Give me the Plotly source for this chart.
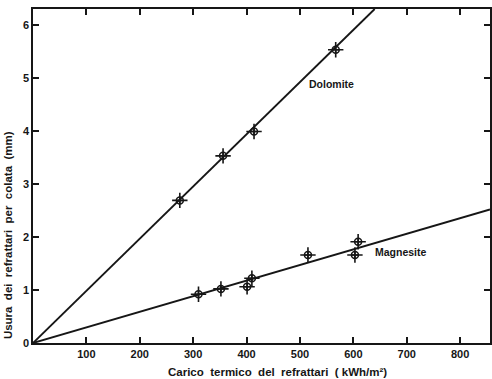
import plotly.graph_objects as go

# Data
dolomite_x = [275, 356, 414, 567]
dolomite_y = [2.69, 3.53, 3.99, 5.53]
magnesite_x = [310, 352, 401, 410, 515, 603, 609]
magnesite_y = [0.92, 1.02, 1.06, 1.22, 1.66, 1.66, 1.91]

# Fitted lines (endpoints)
dolomite_line_x = [0, 640]
dolomite_line_y = [0, 6.3]
magnesite_line_x = [0, 856]
magnesite_line_y = [0, 2.52]

x_ticks = [100, 200, 300, 400, 500, 600, 700, 800]
y_ticks = [0, 1, 2, 3, 4, 5, 6]

ink = "#161616"
fam = "Liberation Sans, Arial, sans-serif"
font = dict(family=fam, size=11, color=ink)

fig = go.Figure()
for lx, ly in [(dolomite_line_x, dolomite_line_y), (magnesite_line_x, magnesite_line_y)]:
    fig.add_trace(go.Scatter(x=lx, y=ly, mode="lines",
                             line=dict(color=ink, width=1.9), showlegend=False))
for px, py in [(dolomite_x, dolomite_y), (magnesite_x, magnesite_y)]:
    fig.add_trace(go.Scatter(x=px, y=py, mode="markers", showlegend=False,
                             marker=dict(symbol="cross-thin-open", size=11, color=ink,
                                         line=dict(color=ink, width=1.6))))
    fig.add_trace(go.Scatter(x=px, y=py, mode="markers", showlegend=False,
                             marker=dict(symbol="circle-cross-open", size=7,
                                         color=ink,
                                         line=dict(color=ink, width=1.5))))

fig.add_annotation(x=560, y=4.89, text="<b>Dolomite</b>", showarrow=False,
                   font=dict(family=fam, size=10.5, color=ink))
fig.add_annotation(x=690, y=1.72, text="<b>Magnesite</b>", showarrow=False,
                   font=dict(family=fam, size=10.5, color=ink))

# axis titles
fig.add_annotation(xref="paper", yref="paper", x=0.536, y=-0.087,
                   text="<b>Carico  termico  del  refrattari  ( kWh/m²)</b>",
                   showarrow=False, font=dict(family=fam, size=11.5, color=ink),
                   xanchor="center", yanchor="middle")
fig.add_annotation(xref="paper", yref="paper", x=-0.0547, y=0.323,
                   text="<b>Usura  dei  refrattari  per  colata  (mm)</b>",
                   showarrow=False, textangle=-90,
                   font=dict(family=fam, size=11.5, color=ink),
                   xanchor="center", yanchor="middle")

fig.update_xaxes(range=[0, 856], tickvals=x_ticks,
                 ticktext=[f"<b>{v}</b>" for v in x_ticks],
                 ticks="inside", ticklen=6, tickwidth=1.5, tickcolor=ink,
                 showline=True, linecolor=ink, linewidth=1.6, mirror="ticks",
                 showgrid=False, zeroline=False, automargin=False,
                 tickfont=dict(size=11))
fig.update_yaxes(range=[0, 6.3], tickvals=y_ticks,
                 ticktext=[f"<b>{v}</b>" for v in y_ticks],
                 ticks="inside", ticklen=6, tickwidth=1.5, tickcolor=ink,
                 showline=True, linecolor=ink, linewidth=1.6, mirror="ticks",
                 showgrid=False, zeroline=False, automargin=False,
                 tickfont=dict(size=11))

fig.update_layout(width=492, height=379,
                  margin=dict(l=33, r=2, t=9, b=36),
                  paper_bgcolor="white", plot_bgcolor="white",
                  font=font, showlegend=False)

fig.write_html("out.html", config={"displayModeBar": False},
               post_script="document.body.style.margin='0px';document.body.style.overflow='hidden';")
